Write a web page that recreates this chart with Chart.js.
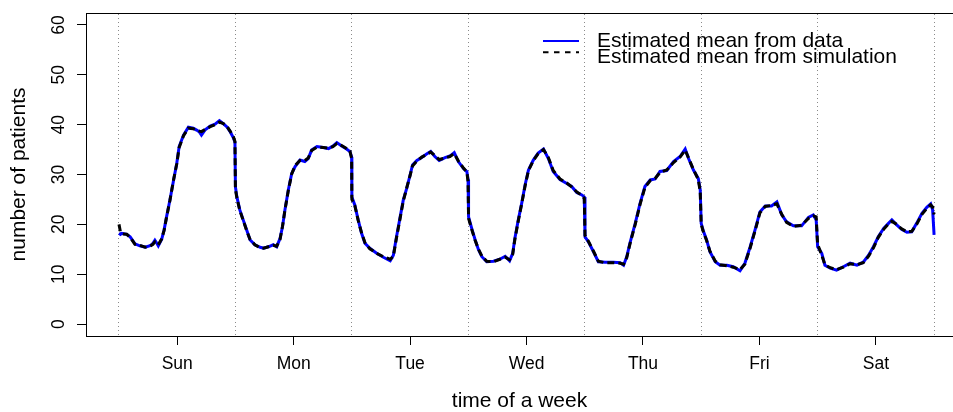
<!DOCTYPE html>
<html>
<head>
<meta charset="utf-8">
<script src="https://cdn.jsdelivr.net/npm/chart.js@4.4.1/dist/chart.umd.min.js"></script>
<style>
html,body{margin:0;padding:0;background:#fff;overflow:hidden;}
#wrap{width:953px;height:412px;}
</style>
</head>
<body>
<div id="wrap"><canvas id="c" width="953" height="412"></canvas></div>
<script>
// ---- data (hours since start of week) ----
const hours = [
  0, 0.3, 0.6, 1.6, 2.3, 3.3, 4.3, 5.4, 6.4, 7.0, 7.4, 7.8, 8.1, 8.8, 9.3, 9.8, 10.5, 11.2, 11.9, 12.4, 13.3, 14.3, 15.3, 16.0, 16.6, 17.0, 17.7, 18.8, 19.8, 20.7, 21.5, 22.3, 22.9, 23.6, 23.9,
  24.0, 24.3, 24.9, 25.6, 26.3, 27.0, 28.0, 29.1, 29.8, 30.8, 31.8, 32.5, 33.2, 33.7, 34.2, 34.9, 35.6, 36.3, 37.3, 38.3, 39.0, 39.7, 40.8, 42.1, 43.2, 44.1, 44.9, 45.9, 46.9, 47.6, 47.95,
  48.0, 48.6, 49.3, 50.0, 50.7, 51.7, 53.1, 54.5, 55.9, 56.55, 57.2, 57.9, 58.6, 59.3, 60.0, 60.5, 61.4, 62.4, 63.4, 64.25, 65.1, 66.0, 67.2, 68.2, 69.1, 69.95, 71.0, 71.7, 71.95,
  72.05, 72.7, 73.4, 74.1, 74.8, 75.8, 77.2, 78.5, 79.6, 80.5, 81.15, 81.6, 82.3, 83.0, 83.7, 84.4, 85.4, 86.4, 87.5, 88.5, 89.5, 90.9, 92.3, 93.3, 94.35, 95.4, 95.9,
  96.05, 96.75, 97.8, 98.8, 100.2, 101.9, 103.3, 104.0, 104.65, 105.3, 106.4, 107.4, 108.4, 109.5, 110.5, 111.5, 112.9, 114.3, 115.65, 116.7, 117.4, 118.4, 119.4, 119.8,
  120.0, 120.5, 121.1, 121.8, 122.9, 123.9, 125.3, 126.6, 128.0, 129.0, 130.1, 131.1, 132.1, 133.2, 134.5, 135.6, 136.6, 137.6, 139.0, 140.7, 142.1, 143.1, 143.7,
  144.0, 144.85, 145.5, 146.6, 147.9, 149.3, 150.7, 152.1, 153.4, 154.5, 155.5, 156.5, 157.6, 158.6, 159.3, 160.3, 161.3, 162.4, 163.4, 164.4, 165.5, 166.5, 167.3, 167.7, 168.0
];
const dataMean = [
  18.2, 18.0, 18.2, 18.0, 17.5, 16.1, 15.7, 15.4, 15.7, 16.2, 16.8, 16.2, 15.7, 17.0, 18.9, 21.5, 24.9, 28.6, 32.2, 35.6, 37.9, 39.5, 39.3, 38.9, 38.5, 37.9, 38.9, 39.7, 40.1, 40.8, 40.2, 39.5, 38.6, 37.3, 36.5,
  27.5, 25.5, 22.9, 20.9, 18.9, 16.9, 15.9, 15.4, 15.2, 15.5, 15.9, 15.5, 17.2, 19.5, 22.9, 26.9, 30.2, 31.6, 32.9, 32.6, 33.2, 34.9, 35.6, 35.4, 35.2, 35.7, 36.4, 35.7, 35.1, 34.6, 33.5,
  25.5, 23.9, 20.9, 18.2, 16.2, 15.2, 14.2, 13.4, 12.7, 13.8, 17.5, 21.2, 24.9, 27.2, 29.9, 31.9, 32.8, 33.4, 34.1, 34.6, 33.6, 32.8, 33.4, 33.7, 34.4, 32.6, 31.2, 30.6, 29.0,
  21.5, 19.2, 16.9, 14.9, 13.5, 12.5, 12.6, 13.0, 13.6, 12.7, 14.2, 17.2, 20.9, 24.2, 27.9, 30.9, 32.9, 34.3, 35.1, 33.2, 30.6, 29.0, 28.2, 27.6, 26.4, 25.9, 25.5,
  17.5, 16.5, 14.5, 12.5, 12.4, 12.4, 12.3, 11.8, 13.5, 16.2, 20.2, 24.2, 27.6, 28.9, 29.1, 30.6, 30.8, 32.6, 33.6, 35.1, 33.2, 30.9, 29.2, 26.9,
  20.2, 18.5, 16.9, 14.5, 12.5, 11.8, 11.8, 11.5, 10.7, 12.2, 15.5, 18.9, 22.5, 23.7, 23.7, 24.5, 21.9, 20.5, 19.7, 19.7, 21.4, 21.9, 20.9,
  15.5, 14.2, 11.8, 11.2, 10.8, 11.5, 12.2, 11.8, 12.4, 13.8, 15.5, 17.5, 19.2, 20.2, 20.9, 19.9, 19.0, 18.4, 18.5, 20.2, 22.2, 23.4, 24.1, 22.9, 17.9
];
const simMean = [
  20.0, 18.5, 18.1, 18.0, 17.4, 16.0, 15.8, 15.4, 15.6, 16.0, 16.5, 16.3, 15.9, 17.1, 18.8, 21.4, 24.8, 28.7, 32.1, 35.4, 37.8, 39.3, 39.2, 38.9, 38.7, 38.6, 39.0, 39.6, 40.0, 40.5, 40.2, 39.6, 38.7, 37.5, 36.6,
  27.0, 25.3, 22.8, 20.8, 18.8, 17.0, 15.9, 15.3, 15.2, 15.5, 15.8, 15.6, 17.0, 19.6, 22.8, 26.8, 30.1, 31.8, 32.8, 32.8, 33.3, 34.8, 35.5, 35.4, 35.3, 35.6, 36.2, 35.8, 35.2, 34.7, 33.2,
  25.0, 23.8, 20.8, 18.3, 16.3, 15.1, 14.2, 13.5, 13.0, 13.6, 17.3, 21.0, 24.7, 27.3, 29.8, 31.7, 32.7, 33.5, 34.0, 34.5, 33.8, 33.0, 33.3, 33.6, 34.2, 32.7, 31.3, 30.5, 28.5,
  21.2, 19.0, 16.8, 15.0, 13.6, 12.6, 12.5, 13.0, 13.4, 12.9, 14.0, 17.0, 20.7, 24.1, 27.7, 30.8, 32.8, 34.2, 35.0, 33.4, 30.8, 29.1, 28.3, 27.5, 26.5, 25.8, 25.2,
  17.8, 16.6, 14.6, 12.6, 12.3, 12.3, 12.2, 12.0, 13.3, 16.0, 20.0, 24.0, 27.4, 28.8, 29.2, 30.4, 30.9, 32.4, 33.5, 34.9, 33.3, 31.0, 29.0, 26.5,
  20.0, 18.3, 16.8, 14.6, 12.6, 11.9, 11.7, 11.4, 10.9, 12.0, 15.3, 18.7, 22.3, 23.6, 23.8, 24.1, 22.0, 20.4, 19.6, 19.8, 21.2, 21.7, 21.5,
  16.0, 13.8, 11.9, 11.3, 10.9, 11.4, 12.1, 11.9, 12.3, 13.6, 15.3, 17.4, 19.0, 20.1, 20.6, 20.0, 19.1, 18.5, 18.6, 20.0, 22.0, 23.2, 23.9, 23.5, 22.0
];
const dayLabels = ['Sun', 'Mon', 'Tue', 'Wed', 'Thu', 'Fri', 'Sat'];
const dayCenters = [12, 36, 60, 84, 108, 132, 156];
const dayBounds = [0, 24, 48, 72, 96, 120, 144, 168];
const yTicks = [0, 10, 20, 30, 40, 50, 60];
const legendLabels = ['Estimated mean from data', 'Estimated mean from simulation'];

const FONT = '"Liberation Sans", Arial, Helvetica, sans-serif';
const toPoints = (ys) => hours.map((h, i) => ({x: h, y: ys[i]}));

const rLegend = {
  id: 'rLegend',
  afterDraw(chart) {
    const ctx = chart.ctx;
    const ds = chart.data.datasets;
    const rows = [{ly: 41, ty: 46.7}, {ly: 52.3, ty: 63.3}];
    ctx.save();
    ctx.font = '21px ' + FONT;
    ctx.textBaseline = 'alphabetic';
    ctx.textAlign = 'left';
    ds.forEach((d, i) => {
      ctx.beginPath();
      ctx.strokeStyle = d.borderColor;
      ctx.lineWidth = 2;
      ctx.setLineDash(d.borderDash ? [5.5, 5.5] : []);
      ctx.moveTo(543, rows[i].ly);
      ctx.lineTo(579, rows[i].ly);
      ctx.stroke();
      ctx.setLineDash([]);
      ctx.fillStyle = '#000';
      ctx.fillText(legendLabels[i], 597, rows[i].ty);
    });
    ctx.restore();
  }
};

const XMIN = -6.8, XMAX = 171.9;

new Chart(document.getElementById('c'), {
  type: 'line',
  data: {
    datasets: [
      {
        label: legendLabels[0],
        data: toPoints(dataMean),
        borderColor: '#0000ff',
        borderWidth: 3,
        pointRadius: 0,
        tension: 0,
        order: 1
      },
      {
        label: legendLabels[1],
        data: toPoints(simMean),
        borderColor: '#000000',
        borderWidth: 3,
        borderDash: [7, 4],
        pointRadius: 0,
        tension: 0,
        order: 0
      }
    ]
  },
  options: {
    responsive: false,
    animation: false,
    devicePixelRatio: 1,
    layout: {padding: {top: 13, left: 0, right: 0, bottom: 0}},
    plugins: {legend: {display: false}, tooltip: {enabled: false}},
    scales: {
      x: {
        type: 'linear',
        position: 'bottom',
        min: XMIN, max: XMAX,
        afterBuildTicks: s => { s.ticks = dayCenters.map(v => ({value: v})); },
        afterFit: s => { s.height = 76; s.paddingLeft = 0; s.paddingRight = 0; },
        ticks: {
          autoSkip: false, maxRotation: 0, minRotation: 0,
          padding: 9, color: '#000',
          font: {family: FONT, size: 17.5},
          callback: (v, i) => dayLabels[i]
        },
        grid: {drawOnChartArea: false, drawTicks: true, tickLength: 9, color: '#000', lineWidth: 1},
        border: {display: true, color: '#000', width: 1},
        title: {display: true, text: 'time of a week', color: '#000',
                font: {family: FONT, size: 21, lineHeight: 1}, padding: {top: 0, bottom: 0}}
      },
      x2: {
        type: 'linear',
        position: 'top',
        min: XMIN, max: XMAX,
        afterBuildTicks: s => { s.ticks = dayBounds.map(v => ({value: v})); },
        afterFit: s => { s.height = 0; s.paddingLeft = 0; s.paddingRight = 0; },
        ticks: {display: false},
        grid: {drawOnChartArea: true, drawTicks: false, color: '#8a8a8a', lineWidth: 1},
        border: {display: true, color: '#000', width: 1, dash: [1, 3]}
      },
      y: {
        type: 'linear',
        position: 'left',
        min: -2.4, max: 62.4,
        afterBuildTicks: s => { s.ticks = yTicks.map(v => ({value: v})); },
        afterFit: s => { s.width = 86; s.paddingTop = 0; s.paddingBottom = 0; },
        ticks: {
          autoSkip: false, minRotation: 90, maxRotation: 90,
          crossAlign: 'center', padding: 8, color: '#000',
          font: {family: FONT, size: 17.5}
        },
        grid: {drawOnChartArea: false, drawTicks: true, tickLength: 9, color: '#000', lineWidth: 1},
        border: {display: true, color: '#000', width: 1},
        title: {display: true, text: 'number of patients', color: '#000',
                font: {family: FONT, size: 21, lineHeight: 1}, padding: {top: 9, bottom: 0}}
      }
    }
  },
  plugins: [rLegend]
});
</script>
</body>
</html>
